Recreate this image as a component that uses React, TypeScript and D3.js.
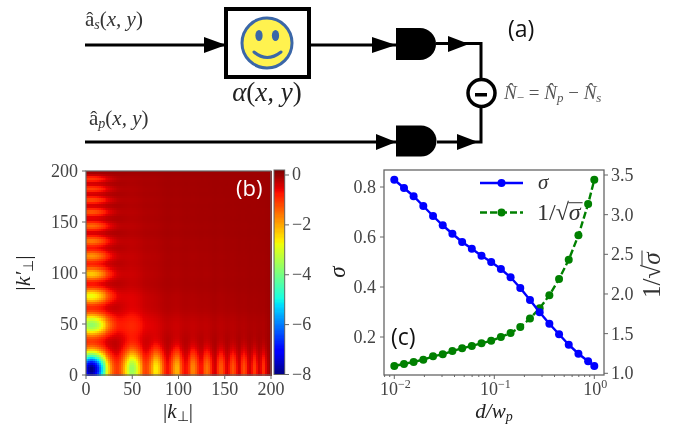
import React from 'react';
import * as d3 from 'd3';

// panel (c): x positions and the two curves
const dOverW = [0.01, 0.0125, 0.0156, 0.0195, 0.0244, 0.0305, 0.0381, 0.0477, 0.0596, 0.0745, 0.0931,
  0.1164, 0.1455, 0.1819, 0.2274, 0.2842, 0.3553, 0.4441, 0.5551, 0.6939, 0.8674, 1.0];
const sigma = [0.829, 0.796, 0.763, 0.724, 0.684, 0.647, 0.613, 0.58, 0.553, 0.525, 0.5,
  0.472, 0.439, 0.396, 0.348, 0.299, 0.253, 0.211, 0.169, 0.133, 0.103, 0.084];
const invRoot = [1.092, 1.118, 1.143, 1.172, 1.214, 1.24, 1.28, 1.315, 1.345, 1.38, 1.41,
  1.458, 1.508, 1.584, 1.69, 1.82, 1.983, 2.19, 2.43, 2.74, 3.134, 3.44];
const sigmaTicks = [0.2, 0.4, 0.6, 0.8];
const invRootTicks = [1.0, 1.5, 2.0, 2.5, 3.0, 3.5];

// panel (b): lobe centres and peak depth of each lobe (rows are k', columns are k)
const kLobes = [6, 50, 76, 98, 116, 131, 146, 159, 171, 182, 192];
const kPrimeLobes = [6, 50, 78, 100, 117, 132, 147, 160, 172, 183, 193];
const lobeSpread = [14, 8, 6, 5, 4.5, 4, 3.6, 3.3, 3, 2.8, 2.6];
const cornerSpread = 12;
const innerStretch = 1.5;
const lobeDepth = [
  [-8, -3.6, -2.6, -2.1, -1.7, -1.5, -1.3, -1.25, -1.2, -1.1, -1.0],
  [-3.7, -0.8, -0.35, -0.3, -0.25, -0.22, -0.2, -0.18, -0.15, -0.12, -0.12],
  [-2.8, -0.4, -0.18, -0.15, -0.12, -0.1, -0.1, -0.08, -0.07, -0.06, -0.06],
  [-2.3, -0.3, -0.15, -0.12, -0.1, -0.1, -0.08, -0.07, -0.06, -0.05, -0.05],
  [-1.8, -0.25, -0.14, -0.1, -0.1, -0.08, -0.07, -0.06, -0.05, -0.04, -0.04],
  [-1.6, -0.22, -0.12, -0.1, -0.08, -0.07, -0.06, -0.05, -0.04, -0.04, -0.03],
  [-1.45, -0.2, -0.11, -0.09, -0.07, -0.06, -0.05, -0.04, -0.04, -0.03, -0.03],
  [-1.3, -0.18, -0.1, -0.08, -0.06, -0.05, -0.04, -0.04, -0.03, -0.03, -0.03],
  [-1.2, -0.16, -0.09, -0.07, -0.06, -0.05, -0.04, -0.03, -0.03, -0.03, -0.02],
  [-1.1, -0.14, -0.08, -0.06, -0.05, -0.04, -0.03, -0.03, -0.03, -0.02, -0.02],
  [-1.0, -0.12, -0.08, -0.06, -0.05, -0.04, -0.03, -0.03, -0.02, -0.02, -0.02],
];
const heatTicks = [0, 50, 100, 150, 200];
const barTicks = [0, -2, -4, -6, -8];

const serif = '"Liberation Serif", serif';
const labelFont = '"Open Sans", sans-serif';
const frame = '#666';
const ink = '#444';

const stops = (pts: number[][]) => d3.scaleLinear().domain(pts.map(p => p[0])).range(pts.map(p => p[1])).clamp(true);
const jetR = stops([[0, 0], [0.35, 0], [0.66, 1], [0.89, 1], [1, 0.5]]);
const jetG = stops([[0, 0], [0.125, 0], [0.375, 1], [0.64, 1], [0.91, 0], [1, 0]]);
const jetB = stops([[0, 0.5], [0.11, 1], [0.34, 1], [0.65, 0], [1, 0]]);
const jet = (t: number) => d3.rgb(jetR(t) * 255, jetG(t) * 255, jetB(t) * 255).formatHex();
const color = d3.scaleSequential(jet).domain([-8, 0.2]).clamp(true);

const heatX = d3.scaleLinear().domain([0, 200]).range([86, 271]);
const heatY = d3.scaleLinear().domain([0, 200]).range([375, 171]);
const barY = d3.scaleLinear().domain([-8, 0.2]).range([374.5, 170]);

const x = d3.scaleLog().domain([10 ** -2.103, 10 ** 0.097]).range([384, 604]);
const yL = d3.scaleLinear().domain([0.8 + 17 / 250, 0.8 - 188 / 250]).range([170, 375]);
const yR = d3.scaleLinear().domain([1, 3.5]).range([373.3, 175]);

const depthAt = (k: number, kp: number) => {
  let v = 0;
  lobeDepth.forEach((row, j) => row.forEach((d, i) => {
    const corner = i === 0 && j === 0;
    const inner = i > 0 && j > 0;
    const sx = corner ? cornerSpread : lobeSpread[i] * (inner ? innerStretch : 1);
    const sy = corner ? cornerSpread : lobeSpread[j] * (inner ? innerStretch : 1);
    const dx = (k - kLobes[i]) / sx;
    const dy = (kp - kPrimeLobes[j]) / sy;
    if (Math.abs(dx) < 4 && Math.abs(dy) < 4) v += d * Math.exp(-(dx * dx + dy * dy) / 2);
  }));
  return v;
};

const cellKeys = d3.range(1, 200, 2);
const barSteps = d3.range(-8, 0.2, 0.05);

const arrow = (tip: number, len: number, cy: number, half = 8) =>
  `M${tip - len},${cy - half}L${tip},${cy}L${tip - len},${cy + half}Z`;

const detector = (x0: number, split: number, y0: number, y1: number) => {
  const p = d3.path();
  const r = (y1 - y0) / 2;
  p.moveTo(x0, y0);
  p.lineTo(split, y0);
  p.arc(split, y0 + r, r, -Math.PI / 2, Math.PI / 2);
  p.lineTo(x0, y1);
  p.closePath();
  return p.toString();
};

// 1/sqrt(sigma) with its bar, drawn from the text origin so it can be rotated
function RootSigma({ transform, size }: { transform: string; size: number }) {
  return (
    <g transform={transform}>
      <text fontFamily={serif} fontSize={size} fill="#333">
        1/√<tspan fontStyle="italic">σ</tspan>
      </text>
      <line x1={size * 1.3} x2={size * 1.9} y1={-size * 0.72} y2={-size * 0.72} stroke="#333" strokeWidth={1} />
    </g>
  );
}

function Diagram() {
  return (
    <g>
      <g stroke="#000" strokeWidth={3} fill="none">
        <path d="M85,45H226" />
        <path d="M309,45H396" />
        <path d="M85,142H396" />
        <path d="M436,43.5H481V142H437" />
      </g>
      <path d={arrow(226, 22, 45)} fill="#000" />
      <path d={arrow(396, 24, 45)} fill="#000" />
      <path d={arrow(396, 20, 142)} fill="#000" />
      <path d={arrow(469, 21, 44)} fill="#000" />
      <path d={arrow(478, 21, 142)} fill="#000" />
      <path d={detector(396, 420, 28, 60)} fill="#000" />
      <path d={detector(396, 421, 125.5, 156.5)} fill="#000" />

      <rect x={226} y={9} width={83} height={68} fill="#fff" stroke="#000" strokeWidth={4} />
      <circle cx={267} cy={43} r={25} fill="#fff24f" stroke="#3b67a8" strokeWidth={3} />
      <ellipse cx={259} cy={35.5} rx={3.6} ry={5.6} fill="#3b67a8" />
      <ellipse cx={275.5} cy={35.5} rx={3.6} ry={5.6} fill="#3b67a8" />
      <path d="M254,52Q267,63 281,52" fill="none" stroke="#3b67a8" strokeWidth={3} strokeLinecap="round" />

      <circle cx={481.5} cy={93} r={13.5} fill="#fff" stroke="#000" strokeWidth={3.5} />
      <rect x={475} y={93} width={12} height={3.5} fill="#000" />

      <text x={85} y={26} fontFamily={serif} fontSize={21} fill="#333">
        <tspan>â</tspan><tspan fontSize={14} dy={3} fontStyle="italic">s</tspan><tspan dy={-3}>(</tspan><tspan fontStyle="italic">x, y</tspan><tspan>)</tspan>
      </text>
      <text x={89} y={125} fontFamily={serif} fontSize={21} fill="#333">
        <tspan>â</tspan><tspan fontSize={14} dy={3} fontStyle="italic">p</tspan><tspan dy={-3}>(</tspan><tspan fontStyle="italic">x, y</tspan><tspan>)</tspan>
      </text>
      <text x={267} y={101} textAnchor="middle" fontFamily={serif} fontSize={27} fill="#222">
        <tspan fontStyle="italic">α</tspan><tspan>(</tspan><tspan fontStyle="italic">x, y</tspan><tspan>)</tspan>
      </text>
      <text x={504} y={99} fontFamily={serif} fontSize={19} fill="#555">
        <tspan fontStyle="italic">{'N\u0302'}</tspan><tspan fontSize={13} dy={3}>−</tspan>
        <tspan dy={-3}>{' = '}</tspan><tspan fontStyle="italic">{'N\u0302'}</tspan><tspan fontSize={13} dy={3} fontStyle="italic">p</tspan>
        <tspan dy={-3}>{' − '}</tspan><tspan fontStyle="italic">{'N\u0302'}</tspan><tspan fontSize={13} dy={3} fontStyle="italic">s</tspan>
      </text>
      <text x={508} y={37} fontFamily={labelFont} fontSize={23} fill="#111">(a)</text>
    </g>
  );
}

function HeatPanel() {
  const w = heatX(2) - heatX(0);
  const h = heatY(0) - heatY(2);
  return (
    <g>
      <g shapeRendering="crispEdges">
        {cellKeys.map(kp => cellKeys.map(k => (
          <rect key={`${k}-${kp}`} x={heatX(k - 1)} y={heatY(kp + 1)} width={w + 0.6} height={h + 0.6}
            fill={color(depthAt(k, kp))} />
        )))}
      </g>
      <rect x={86} y={171} width={185} height={204} fill="none" stroke={frame} strokeWidth={1.2} />
      {heatTicks.map(t => (
        <g key={t}>
          <line x1={heatX(t)} x2={heatX(t)} y1={375} y2={379} stroke={frame} />
          <text x={heatX(t)} y={395} textAnchor="middle" fontFamily={serif} fontSize={18} fill={ink}>{t}</text>
          <line x1={82} x2={86} y1={heatY(t)} y2={heatY(t)} stroke={frame} />
          <text x={78} y={heatY(t) + 6} textAnchor="end" fontFamily={serif} fontSize={18} fill={ink}>{t}</text>
        </g>
      ))}
      <text x={178} y={417.5} textAnchor="middle" fontFamily={serif} fontSize={21} fill="#222">
        |<tspan fontStyle="italic">k</tspan><tspan fontSize={14} dy={3}>⊥</tspan><tspan dy={-3}>|</tspan>
      </text>
      <text transform="translate(30,273) rotate(-90)" textAnchor="middle" fontFamily={serif} fontSize={22} fill="#222">
        |<tspan fontStyle="italic">k′</tspan><tspan fontSize={14} dy={3}>⊥</tspan><tspan dy={-3}>|</tspan>
      </text>
      <text x={236} y={196} fontFamily={labelFont} fontSize={22} fill="#fff">(b)</text>

      <g shapeRendering="crispEdges">
        {barSteps.map(v => (
          <rect key={v} x={274} y={barY(v + 0.05)} width={10.7} height={barY(v) - barY(v + 0.05) + 0.6} fill={color(v + 0.025)} />
        ))}
      </g>
      <rect x={274} y={170} width={10.7} height={204.5} fill="none" stroke={frame} strokeWidth={1} />
      {barTicks.map(t => (
        <g key={t}>
          <line x1={284.7} x2={289} y1={barY(t)} y2={barY(t)} stroke={frame} />
          <text x={292} y={barY(t) + 5.5} fontFamily={serif} fontSize={18} fill={ink}>{t === 0 ? '0' : `−${-t}`}</text>
        </g>
      ))}
    </g>
  );
}

function CurvePanel() {
  const lineL = d3.line<number>().x((_, i) => x(dOverW[i])).y(d => yL(d));
  const lineR = d3.line<number>().x((_, i) => x(dOverW[i])).y(d => yR(d));
  const blue = '#0000ff';
  const green = '#008000';
  return (
    <g>
      <path d={lineR(invRoot) ?? ''} fill="none" stroke={green} strokeWidth={2.4} strokeDasharray="7,3" />
      {invRoot.map((d, i) => <circle key={i} cx={x(dOverW[i])} cy={yR(d)} r={4} fill={green} />)}
      <path d={lineL(sigma) ?? ''} fill="none" stroke={blue} strokeWidth={2.4} />
      {sigma.map((d, i) => <circle key={i} cx={x(dOverW[i])} cy={yL(d)} r={4} fill={blue} />)}

      <rect x={384} y={170} width={220} height={205} fill="none" stroke={frame} strokeWidth={1.3} />
      {x.ticks().map(t => {
        const major = [0.01, 0.1, 1].some(m => Math.abs(t - m) < 1e-9);
        return <line key={t} x1={x(t)} x2={x(t)} y1={375} y2={major ? 379 : 377} stroke={frame} />;
      })}
      {[['−2', 0.01], ['−1', 0.1], ['0', 1]].map(([e, t]) => (
        <text key={e as string} x={x(t as number) + 1} y={395} textAnchor="middle" fontFamily={serif} fontSize={18} fill={ink}>
          10<tspan fontSize={12} dy={-7}>{e as string}</tspan>
        </text>
      ))}
      {sigmaTicks.map(t => (
        <g key={t}>
          <line x1={380} x2={384} y1={yL(t)} y2={yL(t)} stroke={frame} />
          <text x={376} y={yL(t) + 6} textAnchor="end" fontFamily={serif} fontSize={18} fill={ink}>{t.toFixed(1)}</text>
        </g>
      ))}
      {invRootTicks.map(t => (
        <g key={t}>
          <line x1={604} x2={608} y1={yR(t)} y2={yR(t)} stroke={frame} />
          <text x={611} y={yR(t) + 6} fontFamily={serif} fontSize={18} fill={ink}>{t.toFixed(1)}</text>
        </g>
      ))}

      <text x={494} y={417.5} textAnchor="middle" fontFamily={serif} fontSize={21} fill="#222">
        <tspan fontStyle="italic">d/w</tspan><tspan fontSize={14} dy={3} fontStyle="italic">p</tspan>
      </text>
      <text transform="translate(345,272) rotate(-90)" textAnchor="middle" fontFamily={serif} fontSize={23} fontStyle="italic" fill="#222">σ</text>
      <RootSigma transform="translate(660,298) rotate(-90)" size={25} />

      <line x1={480} x2={523} y1={183} y2={183} stroke={blue} strokeWidth={2.4} />
      <circle cx={501.5} cy={183} r={4} fill={blue} />
      <text x={538} y={189} fontFamily={serif} fontSize={21} fontStyle="italic" fill="#333">σ</text>
      <line x1={480} x2={523} y1={212.5} y2={212.5} stroke={green} strokeWidth={2.4} strokeDasharray="7,3" />
      <circle cx={501.5} cy={212.5} r={4} fill={green} />
      <RootSigma transform="translate(537,220)" size={24} />
      <text x={391} y={345} fontFamily={labelFont} fontSize={23} fill="#111">(c)</text>
    </g>
  );
}

export default function App() {
  return (
    <svg width={697} height={425} style={{ position: 'absolute', left: 0, top: 0, background: '#fff', filter: 'blur(0.4px)' }}>
      <Diagram />
      <HeatPanel />
      <CurvePanel />
    </svg>
  );
}
